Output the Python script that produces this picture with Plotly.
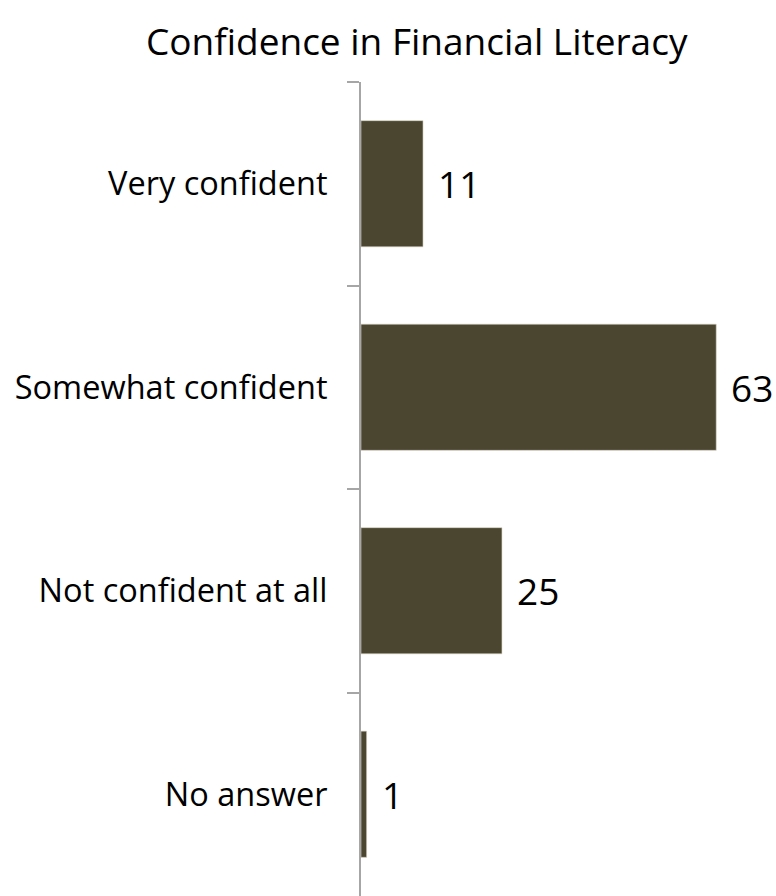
import plotly.graph_objects as go

# Survey responses (percent)
categories = ["Very confident", "Somewhat confident", "Not confident at all", "No answer"]
values = [11, 63, 25, 1]

bar_color = "#4B4630"
axis_color = "#A6A6A6"
font_family = "Open Sans, Noto Sans, sans-serif"

fig = go.Figure(
    go.Bar(
        x=values,
        y=categories,
        orientation="h",
        marker=dict(color=bar_color, line=dict(color="#D8D4C4", width=0.6)),
        width=0.62,
        hoverinfo="skip",
    )
)

# Value labels placed just past each bar end
for cat, val in zip(categories, values):
    fig.add_annotation(
        x=val, y=cat, text=str(val), showarrow=False,
        xanchor="left", yanchor="middle", xshift=13,
        font=dict(family=font_family, size=37, color="#000000"),
    )

fig.update_layout(
    width=776, height=896,
    margin=dict(l=361, r=0, t=82, b=0),
    paper_bgcolor="white", plot_bgcolor="white",
    showlegend=False,
    title=dict(
        text="Confidence in Financial Literacy",
        x=0.537, xanchor="center", y=0.953, yanchor="middle",
        font=dict(family=font_family, size=37, color="#000000"),
    ),
    xaxis=dict(
        range=[0, 73.6], visible=False, fixedrange=True,
    ),
    yaxis=dict(
        categoryorder="array", categoryarray=categories,
        autorange="reversed",
        showline=True, linecolor=axis_color, linewidth=2,
        ticks="outside", tickson="boundaries", ticklen=12,
        tickcolor=axis_color, tickwidth=2,
        ticklabelstandoff=25,
        showgrid=False, zeroline=False,
        tickfont=dict(family=font_family, size=32.5, color="#000000"),
    ),
)

fig.write_html("out.html")
